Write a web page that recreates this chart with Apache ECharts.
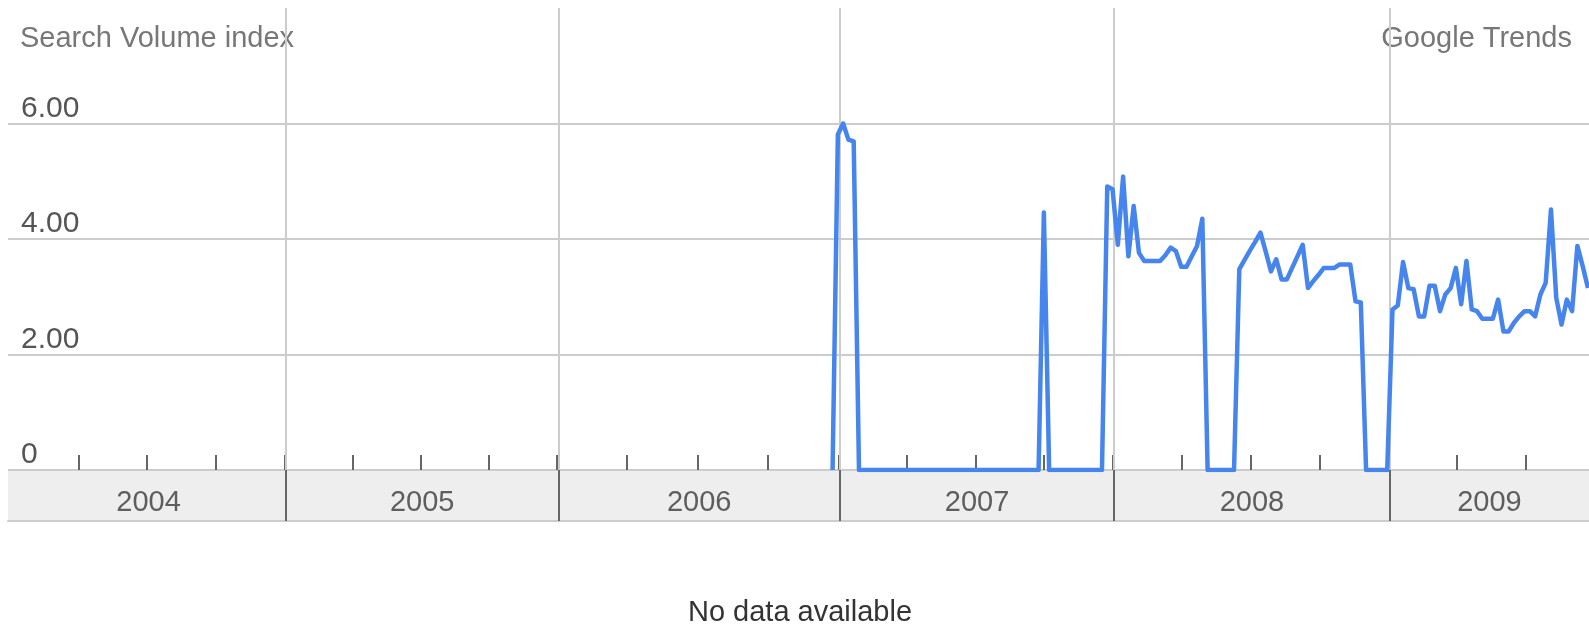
<!DOCTYPE html>
<html>
<head>
<meta charset="utf-8">
<title>Search Volume index</title>
<script src="https://cdn.jsdelivr.net/npm/echarts@6/dist/echarts.min.js"></script>
<style>
    html, body { margin: 0; padding: 0; background: #fff; }
    #trend_chart { width: 1589px; height: 626px; }
</style>
</head>
<body>
<div id="trend_chart"></div>
<script>
// x axis is counted in weeks from the first week of 2004
var yearLabels = ['2004', '2005', '2006', '2007', '2008', '2009'];
var yearStartWeeks = [0, 52, 103.6, 156.9, 208.8, 261];
var weekMin = -0.6;
var weekMax = 298.7;

// weekly search volume, first value is week 155 (end of 2006)
var firstWeek = 155;
var weeklyIndex = [
    0, 5.81, 6.00, 5.72, 5.69, 0,
    0, 0, 0, 0, 0, 0, 0, 0, 0, 0, 0, 0, 0, 0, 0, 0, 0,
    0, 0, 0, 0, 0, 0, 0, 0, 0, 0, 0, 0, 0, 0, 0, 0,
    0, 4.46, 0,
    0, 0, 0, 0, 0, 0, 0, 0, 0, 0,
    4.91, 4.86, 3.90, 5.08, 3.70, 4.57, 3.76, 3.62, 3.62, 3.62,
    3.62, 3.72, 3.85, 3.79, 3.52, 3.52, 3.70, 3.88, 4.35,
    0, 0, 0, 0, 0, 0,
    3.48, 3.64, 3.80, 3.95, 4.11, 3.78, 3.44, 3.65, 3.30, 3.30,
    3.50, 3.70, 3.90, 3.15, 3.27, 3.38, 3.50, 3.50, 3.50, 3.56,
    3.56, 3.56, 2.92, 2.90,
    0, 0, 0, 0, 0,
    2.78, 2.85, 3.60, 3.15, 3.13, 2.66, 2.66, 3.19, 3.19, 2.75,
    3.04, 3.15, 3.50, 2.87, 3.62, 2.78, 2.75, 2.62, 2.62, 2.62,
    2.95, 2.40, 2.40, 2.55, 2.66, 2.75, 2.75, 2.66, 3.04, 3.24,
    4.51, 2.98, 2.52, 2.95, 2.75, 3.88, 3.53, 3.15
];

var fontName = '"Liberation Sans", Arial, Helvetica, sans-serif';

var trendChart = {
    myChart: '',

    // build the line points, quarter ticks and year label positions
    getListData() {
        let lineData = weeklyIndex.map((v, i) => [firstWeek + i + 0.5, v]);
        let quarterTicks = [];
        let yearPoints = [];
        yearStartWeeks.forEach((start, i) => {
            let end = i < yearStartWeeks.length - 1 ? yearStartWeeks[i + 1] : start + 52;
            for (let q = 0; q < 4; q++) {
                let w = start + q * (end - start) / 4;
                if (w > weekMin + 1 && w < weekMax) quarterTicks.push(w - 0.3);
            }
            let a = Math.max(start, weekMin);
            let b = Math.min(end, weekMax);
            yearPoints.push([(a + b) / 2, 0.5, yearLabels[i]]);
        });
        let yearLines = yearStartWeeks.slice(1).map(w => ({ xAxis: w }));
        trendChart.drawChart(lineData, quarterTicks, yearPoints, yearLines);
    },

    drawChart(lineData, quarterTicks, yearPoints, yearLines) {
        trendChart.myChart = echarts.init(document.getElementById('trend_chart'));
        let option = {
            animation: false,
            textStyle: { fontFamily: fontName },
            graphic: [
                {
                    type: 'text', x: 20, y: 39,
                    style: { text: 'Search Volume index', font: '29px ' + fontName, fill: '#777',
                        textAlign: 'left', textVerticalAlign: 'middle', align: 'left', verticalAlign: 'middle' }
                },
                {
                    type: 'text', x: 1572, y: 39,
                    style: { text: 'Google Trends', font: '29px ' + fontName, fill: '#777',
                        textAlign: 'right', textVerticalAlign: 'middle', align: 'right', verticalAlign: 'middle' }
                },
                {
                    type: 'text', x: 800, y: 613,
                    style: { text: 'No data available', font: '29px ' + fontName, fill: '#333',
                        textAlign: 'center', textVerticalAlign: 'middle', align: 'center', verticalAlign: 'middle' }
                }
            ],
            grid: [
                { left: 8, right: 0, top: 8, height: 462, outerBoundsMode: 'none' },
                // grey year band under the plot
                { left: 8, right: 0, top: 470, height: 51, show: true, backgroundColor: '#eeeeee', borderWidth: 0, outerBoundsMode: 'none' }
            ],
            xAxis: [
                {
                    gridIndex: 0, type: 'value', min: weekMin, max: weekMax,
                    axisLine: { show: false, onZero: false },
                    axisLabel: { show: false },
                    splitLine: { show: false },
                    axisTick: {
                        show: true, inside: true, length: 15,
                        customValues: quarterTicks,
                        lineStyle: { color: '#666', width: 2 }
                    }
                },
                {
                    gridIndex: 1, type: 'value', min: weekMin, max: weekMax,
                    axisLine: { show: true, onZero: false, lineStyle: { color: '#cccccc', width: 2 } },
                    axisTick: { show: false },
                    axisLabel: { show: false },
                    splitLine: { show: false }
                }
            ],
            yAxis: [
                {
                    gridIndex: 0, type: 'value', min: 0, max: 8, interval: 2,
                    axisLine: { show: false },
                    axisTick: { show: false },
                    splitLine: {
                        show: true,
                        lineStyle: { color: ['#cccccc', '#cccccc', '#cccccc', '#cccccc', 'rgba(0,0,0,0)'], width: 2 }
                    },
                    axisLabel: {
                        inside: true, margin: 13,
                        verticalAlign: 'bottom', lineHeight: 30,
                        fontSize: 30, color: '#555', fontFamily: fontName,
                        showMaxLabel: false,
                        formatter: function (value) {
                            if (value === 8) return '';
                            return value === 0 ? '0' : value.toFixed(2);
                        }
                    }
                },
                { gridIndex: 1, type: 'value', min: 0, max: 1, show: false }
            ],
            series: [
                {
                    name: 'Search Volume index',
                    type: 'line',
                    xAxisIndex: 0, yAxisIndex: 0,
                    data: lineData,
                    symbol: 'none',
                    z: 3,
                    lineStyle: { color: '#4684ee', width: 4.5, join: 'round' },
                    // light year lines in the plot
                    markLine: {
                        silent: true, z: 1,
                        symbol: ['none', 'none'],
                        label: { show: false },
                        lineStyle: { color: '#cccccc', width: 2, type: 'solid' },
                        data: yearLines
                    }
                },
                {
                    name: 'years',
                    type: 'scatter',
                    xAxisIndex: 1, yAxisIndex: 1,
                    data: yearPoints,
                    symbolSize: 1,
                    silent: true,
                    itemStyle: { color: 'rgba(0,0,0,0)' },
                    label: {
                        show: true, position: 'inside', offset: [0, 7],
                        fontSize: 29, color: '#3a3a3a', fontFamily: fontName,
                        formatter: function (p) { return p.data[2]; }
                    },
                    // dark separators in the band
                    markLine: {
                        silent: true,
                        symbol: ['none', 'none'],
                        label: { show: false },
                        lineStyle: { color: '#666', width: 2, type: 'solid' },
                        data: yearLines
                    }
                }
            ]
        };
        trendChart.myChart.setOption(option);
    }
};

trendChart.getListData();

window.onresize = function () {
    if (trendChart.myChart) trendChart.myChart.resize();
};
</script>
</body>
</html>
